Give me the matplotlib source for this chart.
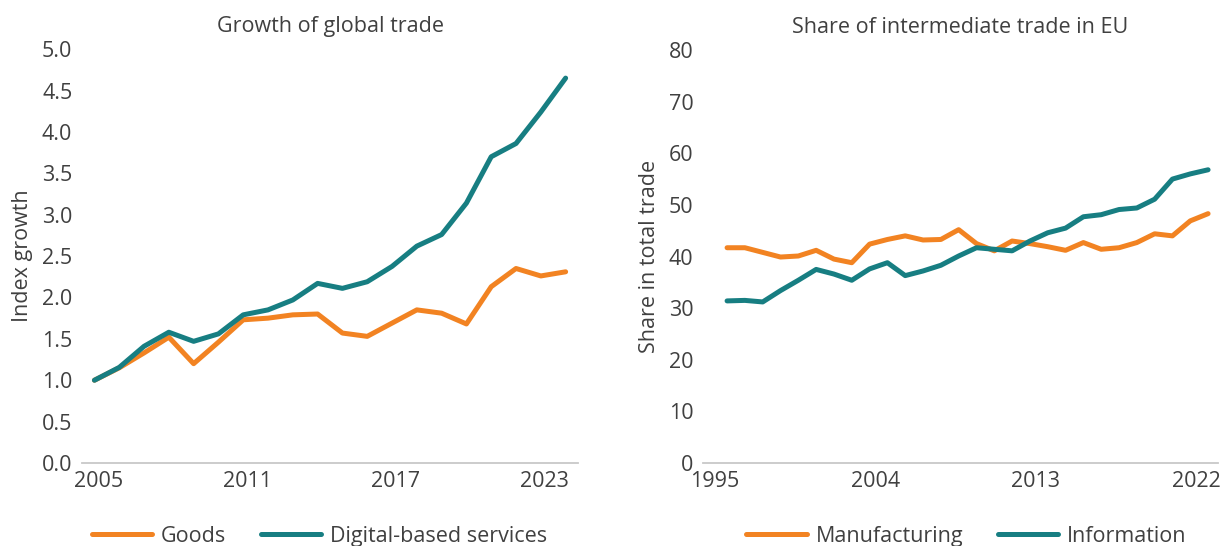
import matplotlib.pyplot as plt
import matplotlib.transforms as mtransforms
from matplotlib.lines import Line2D

plt.rcParams['font.family'] = ['Open Sans', 'DejaVu Sans']

# left panel: growth of global trade (index, 2005 = 1)
years_l = list(range(2005, 2025))
goods = [1.00, 1.15, 1.33, 1.52, 1.20, 1.46, 1.73, 1.75, 1.79, 1.80,
         1.57, 1.53, 1.69, 1.85, 1.81, 1.68, 2.13, 2.35, 2.26, 2.31]
digital = [1.00, 1.155, 1.41, 1.58, 1.47, 1.56, 1.79, 1.85, 1.97, 2.17,
           2.11, 2.19, 2.375, 2.62, 2.76, 3.14, 3.70, 3.86, 4.24, 4.65]
ticks_l = [2005, 2011, 2017, 2023]

# right panel: share of intermediate trade in EU (%)
years_r = list(range(1995, 2023))
manufacturing = [41.7, 41.7, 40.8, 39.9, 40.1, 41.2, 39.5, 38.8, 42.4, 43.3,
                 44.0, 43.2, 43.3, 45.2, 42.5, 41.1, 43.0, 42.5, 41.9, 41.2,
                 42.7, 41.4, 41.7, 42.7, 44.4, 44.0, 46.9, 48.3]
information = [31.4, 31.5, 31.2, 33.4, 35.4, 37.5, 36.6, 35.4, 37.6, 38.8,
               36.3, 37.2, 38.3, 40.1, 41.7, 41.4, 41.1, 43.0, 44.6, 45.5,
               47.7, 48.1, 49.1, 49.4, 51.1, 55.0, 56.0, 56.8]
ticks_r = [1995, 2004, 2013, 2022]

ORANGE = '#F28322'
TEAL = '#177E82'
TXT = '#404040'
FS = 15.5

fig = plt.figure(figsize=(12.28, 5.46), dpi=100)
ax1 = fig.add_axes([0.0668, 0.152, 0.4039, 0.758])
ax2 = fig.add_axes([0.5725, 0.152, 0.4194, 0.7564])


def style(ax):
    for s in ['top', 'right', 'left']:
        ax.spines[s].set_visible(False)
    ax.spines['bottom'].set_color('#C8C8C8')
    ax.spines['bottom'].set_linewidth(1.3)
    ax.tick_params(length=0, labelsize=FS, labelcolor=TXT)
    ax.tick_params(axis='x', pad=6)
    ax.tick_params(axis='y', pad=7)


lw = 3.6
ax1.plot(years_l, goods, color=ORANGE, lw=lw, solid_capstyle='round', solid_joinstyle='round')
ax1.plot(years_l, digital, color=TEAL, lw=lw, solid_capstyle='round', solid_joinstyle='round')
ax1.set_xlim(2004.5, 2024.5)
ax1.set_ylim(0, 5)
ax1.set_yticks([i * 0.5 for i in range(11)])
ax1.set_yticklabels(['%.1f' % (i * 0.5) for i in range(11)])
ax1.set_xticks(ticks_l)
ax1.set_xticklabels([str(t) for t in ticks_l])
ax1.set_ylabel('Index growth', fontsize=FS, color=TXT, labelpad=6)
ax1.set_title('Growth of global trade', fontsize=FS, color=TXT, pad=12)
style(ax1)

ax2.plot(years_r, manufacturing, color=ORANGE, lw=lw, solid_capstyle='round', solid_joinstyle='round')
ax2.plot(years_r, information, color=TEAL, lw=lw, solid_capstyle='round', solid_joinstyle='round')
ax2.set_xlim(1993.65, 2022.56)
ax2.set_ylim(0, 80)
ax2.set_yticks(range(0, 81, 10))
ax2.set_xticks(ticks_r)
ax2.set_xticklabels([str(t) for t in ticks_r])
ax2.set_ylabel('Share in total trade', fontsize=FS, color=TXT, labelpad=6)
ax2.set_title('Share of intermediate trade in EU', fontsize=FS, color=TXT, pad=12)
style(ax2)

# nudge the x labels the way the source chart has them
off_l = mtransforms.ScaledTranslation(4 / 100, 0, fig.dpi_scale_trans)
for lab in ax1.get_xticklabels():
    lab.set_transform(lab.get_transform() + off_l)
off_r = mtransforms.ScaledTranslation(-12 / 100, 0, fig.dpi_scale_trans)
for lab in ax2.get_xticklabels():
    lab.set_transform(lab.get_transform() + off_r)

h1 = [Line2D([], [], color=ORANGE, lw=lw, solid_capstyle='round'),
      Line2D([], [], color=TEAL, lw=lw, solid_capstyle='round')]
fig.legend(h1, ['Goods', 'Digital-based services'], loc='center',
           bbox_to_anchor=(0.26, 0.0175), ncol=2, frameon=False,
           fontsize=FS, labelcolor=TXT, handlelength=2.8, handletextpad=0.42,
           columnspacing=1.6)
fig.legend(h1, ['Manufacturing', 'Information'], loc='center',
           bbox_to_anchor=(0.787, 0.0175), ncol=2, frameon=False,
           fontsize=FS, labelcolor=TXT, handlelength=2.8, handletextpad=0.42,
           columnspacing=1.6)

fig.savefig('out.png', dpi=100)
